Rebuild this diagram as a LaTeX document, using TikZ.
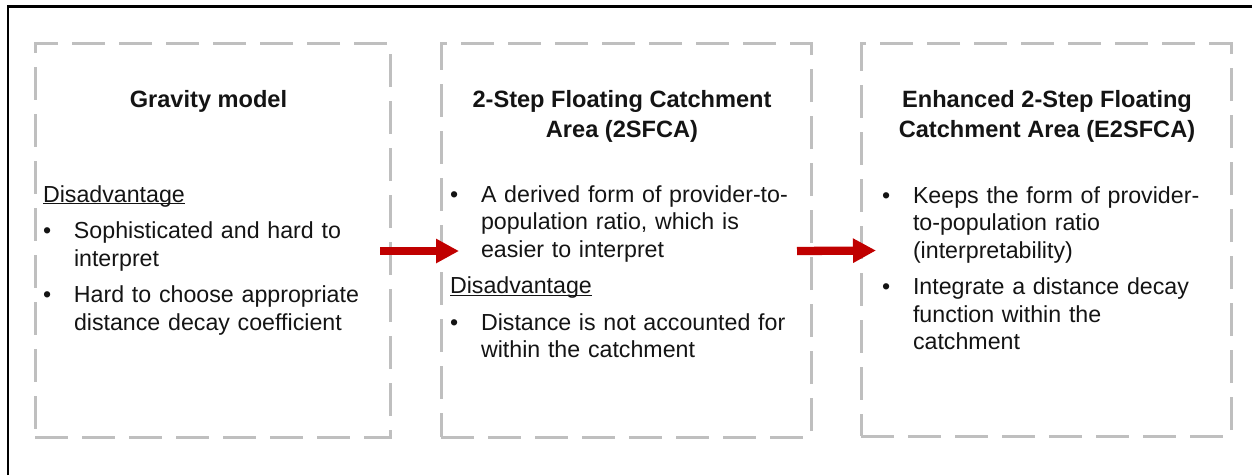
\documentclass[tikz,border=0pt]{standalone}
\usepackage{fontspec}
\setmainfont{Liberation Sans}
\usetikzlibrary{positioning,arrows.meta,calc}
\definecolor{accdash}{RGB}{191,191,191}
\definecolor{accred}{RGB}{192,0,0}
\definecolor{accink}{RGB}{20,20,20}
\newcommand{\accul}[1]{\setbox0\hbox{#1}\rlap{\rule[-2.4pt]{\wd0}{1.3pt}}\box0}
\newcommand{\acchead}[1]{\noindent\strut\accul{#1}\par}
\newcommand{\accitem}[1]{\noindent\hangindent=31pt\hangafter=1\makebox[31pt][l]{\strut\textbullet}#1\par}
\tikzset{
  acc/.style={font=\fontsize{23.2}{27.5}\selectfont, text=accink},
  accbox/.style={
    draw=accdash, line width=3pt, dash pattern=on 33pt off 14pt,
    minimum height=394pt, inner sep=0pt, outer sep=0pt
  },
  acctitle/.style={font=\fontsize{23.6}{30}\selectfont\bfseries, text=accink, align=center, inner sep=0pt, outer sep=0pt},
  acctext/.style={acc, text width=#1, align=left, inner sep=0pt, outer sep=0pt,
    execute at begin node={\setlength{\parskip}{9pt}}},
  accarr/.style={-{Triangle[length=23pt,width=23pt]}, line width=8.3pt, draw=accred},
  accframe/.style={line width=2.2pt, draw=black},
}

\begin{document}
\begin{tikzpicture}[x=1pt, y=-1pt]
  \useasboundingbox (0,0) rectangle (1252,475);
  \draw[accframe] (8,475) -- (8,6.5) -- (1252,6.5);

  % three approaches
  \node[accbox, minimum width=355pt] (grav) at (212.5,240) {};
  \node[accbox, minimum width=370pt] (tsfca) at (626,240) {};
  \node[accbox, minimum width=370pt, minimum height=393pt] (etsfca) at (1046,239.5) {};

  \node[acctitle, below=43pt of grav.north, xshift=-4pt] (gravt) {\strut Gravity model};
  \node[acctitle, below=43pt of tsfca.north, xshift=-4pt] (tsfcat)
    {\strut 2-Step Floating Catchment\\Area (2SFCA)};
  \node[acctitle, below=43pt of etsfca.north, xshift=1pt] (etsfcat)
    {\strut Enhanced 2-Step Floating\\Catchment Area (E2SFCA)};

  \node[acctext=340pt, below right=139.75pt and 8pt of grav.north west] (gravd) {%
    \acchead{Disadvantage}
    \accitem{Sophisticated and hard to\newline interpret}
    \accitem{Hard to choose appropriate\newline distance decay coefficient}};
  \node[acctext=345pt, below right=139.75pt and 9pt of tsfca.north west] (tsfcad) {%
    \accitem{A derived form of provider-to-\newline population ratio, which is\newline easier to interpret}
    \acchead{Disadvantage}
    \accitem{Distance is not accounted for\newline within the catchment}};
  \node[acctext=340pt, below right=140.75pt and 21pt of etsfca.north west] (etsfcad) {%
    \accitem{Keeps the form of provider-\newline to-population ratio\newline (interpretability)}
    \accitem{Integrate a distance decay\newline function within the\newline catchment}};

  \draw[accarr] ([xshift=-10pt, yshift=-11pt]grav.east) -- ([xshift=18pt, yshift=-11pt]tsfca.west);
  \draw[accarr] ([xshift=-14pt, yshift=-11pt]tsfca.east) -- ([xshift=15pt, yshift=-11pt]etsfca.west);
\end{tikzpicture}
\end{document}
